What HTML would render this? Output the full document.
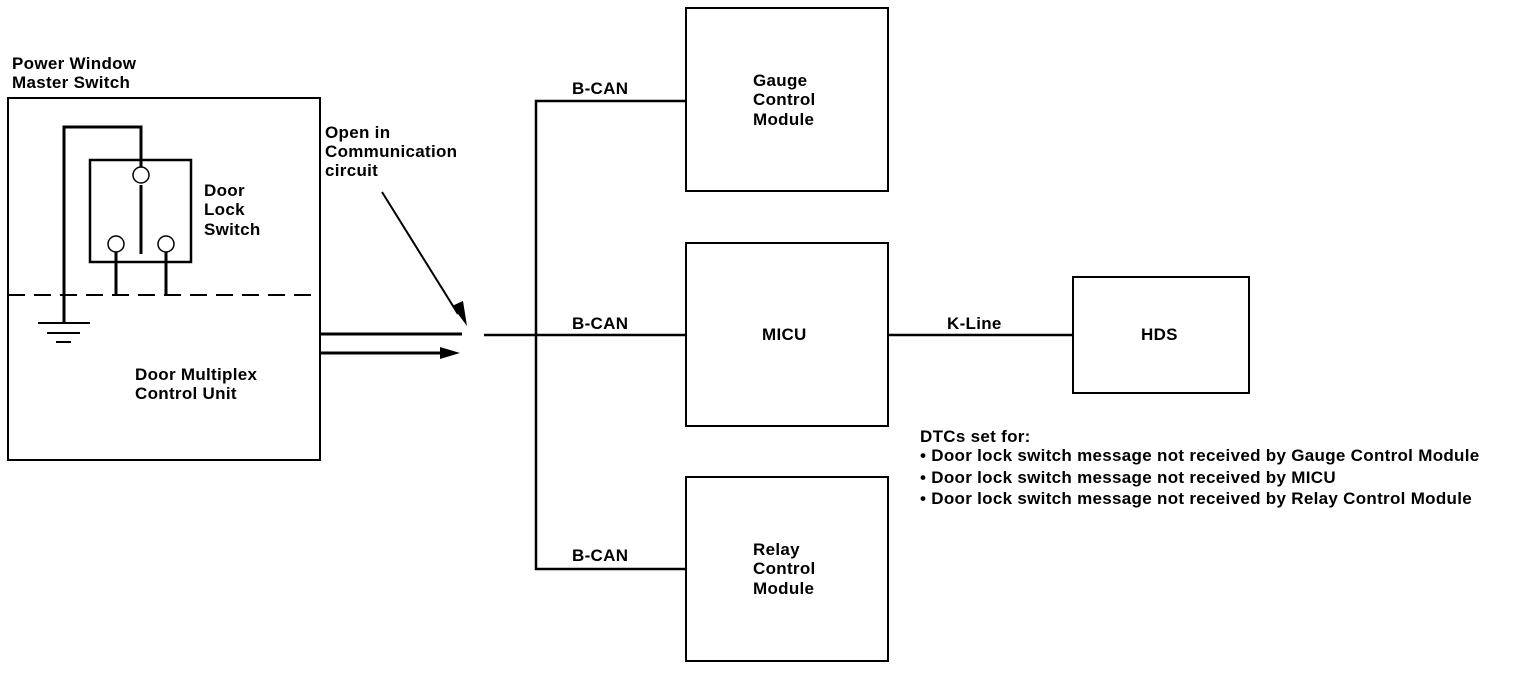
<!DOCTYPE html>
<html><head><style>
body{margin:0;background:#fff}
svg text{font-family:"Liberation Sans",Arial,sans-serif;font-size:17px;font-weight:bold;letter-spacing:0.3px;fill:#000}
</style></head><body>
<svg width="1520" height="672" viewBox="0 0 1520 672" xmlns="http://www.w3.org/2000/svg">
<g fill="none" stroke="#000" stroke-width="2">
<rect x="8" y="98" width="312" height="362"/>
<rect x="90" y="160" width="101" height="102" stroke-width="2.5"/>
<polyline points="64,323 64,127 141,127 141,167" stroke-width="3"/>
<circle cx="141" cy="175" r="8" stroke-width="1.5"/>
<line x1="141" y1="185" x2="141" y2="254" stroke-width="3"/>
<circle cx="116" cy="244" r="8" stroke-width="1.5"/>
<circle cx="166" cy="244" r="8" stroke-width="1.5"/>
<line x1="116" y1="252" x2="116" y2="296" stroke-width="3"/>
<line x1="166" y1="252" x2="166" y2="296" stroke-width="3"/>
<line x1="8" y1="295" x2="320" y2="295" stroke-dasharray="17,9"/>
<line x1="38" y1="323" x2="90" y2="323"/>
<line x1="47" y1="333" x2="80" y2="333"/>
<line x1="56" y1="342" x2="71" y2="342"/>
<line x1="320" y1="334" x2="462" y2="334" stroke-width="3"/>
<line x1="320" y1="353" x2="445" y2="353" stroke-width="3"/>
<line x1="382" y1="192" x2="458" y2="314" stroke-width="2"/>
<line x1="484" y1="335" x2="686" y2="335" stroke-width="2.5"/>
<polyline points="686,101 536,101 536,569 686,569" stroke-width="2.5"/>
<line x1="888" y1="335" x2="1073" y2="335" stroke-width="2.5"/>
<rect x="686" y="8" width="202" height="183"/>
<rect x="686" y="243" width="202" height="183"/>
<rect x="686" y="477" width="202" height="184"/>
<rect x="1073" y="277" width="176" height="116"/>
</g>
<polygon points="440,347 460,353 440,359" fill="#000"/>
<polygon points="452,306 467,326 463,301" fill="#000"/>
<text x="12" y="69">Power Window</text>
<text x="12" y="88">Master Switch</text>
<text x="204" y="196">Door</text>
<text x="204" y="215">Lock</text>
<text x="204" y="235">Switch</text>
<text x="135" y="380">Door Multiplex</text>
<text x="135" y="399">Control Unit</text>
<text x="325" y="138">Open in</text>
<text x="325" y="157">Communication</text>
<text x="325" y="176">circuit</text>
<text x="572" y="94">B-CAN</text>
<text x="572" y="329">B-CAN</text>
<text x="572" y="561">B-CAN</text>
<text x="753" y="86">Gauge</text>
<text x="753" y="105">Control</text>
<text x="753" y="125">Module</text>
<text x="762" y="340">MICU</text>
<text x="753" y="555">Relay</text>
<text x="753" y="574">Control</text>
<text x="753" y="594">Module</text>
<text x="947" y="329">K-Line</text>
<text x="1141" y="340">HDS</text>
<text x="920" y="442">DTCs set for:</text>
<text x="920" y="461">• Door lock switch message not received by Gauge Control Module</text>
<text x="920" y="483">• Door lock switch message not received by MICU</text>
<text x="920" y="504">• Door lock switch message not received by Relay Control Module</text>
</svg>
</body></html>
